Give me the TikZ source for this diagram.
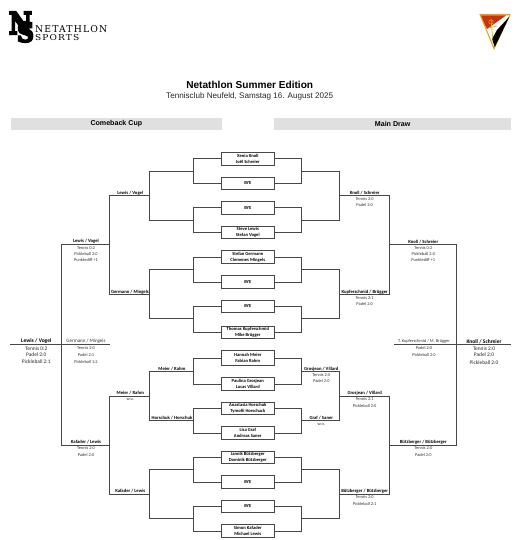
\documentclass[tikz,border=0pt]{standalone}
\usepackage{graphicx}
\usepackage{fontspec}
\setmainfont{Liberation Sans}
\newfontfamily\carl{Carlito}
\newfontfamily\logoserif{DejaVu Serif}
\newfontfamily\logoblack{DejaVu Serif}[BoldFeatures={FakeBold=7}]
\definecolor{barfill}{HTML}{E0E0E0}
\definecolor{crestgold}{HTML}{E8A317}
\definecolor{crestred}{HTML}{C8320F}
\tikzset{
  lineb/.style={draw=black!72,line width=0.85pt},
  matchbox/.style={draw=black!72,line width=0.85pt,fill=white,inner sep=0pt,minimum width=52.3pt,align=center,font=\carl\bfseries\fontsize{4.6}{6.3}\selectfont},
  bn/.style={inner sep=0pt,font=\carl\bfseries\fontsize{4.7}{5}\selectfont},
  rn/.style={inner sep=0pt,text=black!80,font=\carl\fontsize{4.4}{5}\selectfont},
  bbig/.style={inner sep=0pt,font=\carl\bfseries\fontsize{5.5}{6}\selectfont},
  rbig/.style={inner sep=0pt,text=black!85,font=\carl\fontsize{5.4}{6}\selectfont},
  rmid/.style={inner sep=0pt,text=black!80,font=\carl\fontsize{5}{6}\selectfont},
  bar/.style={fill=barfill,inner sep=0pt,minimum height=12pt,font=\bfseries\fontsize{7.1}{8}\selectfont},
}
\begin{document}
\begin{tikzpicture}[x=1pt,y=-1pt]
\useasboundingbox (0,0) rectangle (519,540);
% logo
\node[inner sep=0pt] (logoN) at (20.5,23) {\resizebox{23pt}{22pt}{\logoblack\bfseries N}};
\node[inner sep=0pt] (logoS) at (25.5,32) {\resizebox{17pt}{20pt}{\logoblack\bfseries S}};
\node[inner sep=0pt,anchor=west] (logoA) at (35,29.5) {\resizebox{72pt}{7pt}{\logoserif\addfontfeatures{LetterSpace=12}NETATHLON}};
\node[inner sep=0pt,anchor=west] (logoB) at (35,38) {\resizebox{44pt}{6pt}{\logoserif\addfontfeatures{LetterSpace=12}SPORTS}};
% crest
\fill[crestgold] (479.3,14) -- (510.7,14) -- (494,50) -- cycle;
\fill[white] (481,15.5) -- (509,15.5) -- (494,46.5) -- cycle;
\fill[crestred] (481,15.5) -- (506,15.5) -- (487,29) -- (485,25) -- cycle;
\fill[black] (509.5,16.5) -- (494.8,47) -- (492,39) -- (497,30) -- cycle;
\draw[crestgold,line width=0.6pt] (491,19) -- (493,41) (488.5,28) -- (497,26);
\draw[crestgold,line width=0.5pt] (491,22) circle (2.2);
% titles
\node[inner sep=0pt,font=\bfseries\fontsize{10.1}{12}\selectfont] (title) at (249.7,85) {Netathlon Summer Edition};
\node[inner sep=0pt,text=black!85,font=\fontsize{8.1}{9}\selectfont] (subtitle) at (249.7,96) {Tennisclub Neufeld, Samstag 16. August 2025};
\node[bar,minimum width=211.3pt] (barL) at (116.35,124) {Comeback Cup};
\node[bar,minimum width=237.3pt] (barR) at (392.65,124) {Main Draw};
% junctions
\foreach \n/\y in {1/171.3,2/220.3,3/269,4/318.7,5/371.7,6/420.3,7/469.3,8/518.3}{
  \coordinate (a\n) at (193,\y);
  \coordinate (b\n) at (301.7,\y);
}
\foreach \n/\y in {1/195.7,2/294.5,3/396,4/494}{
  \coordinate (c\n) at (149.3,\y);
  \coordinate (d\n) at (339.3,\y);
}
\foreach \n/\y in {1/244.3,2/445}{
  \coordinate (e\n) at (109.7,\y);
  \coordinate (f\n) at (389,\y);
}
\coordinate (g) at (61,344);
\coordinate (h) at (456.7,344);
\coordinate (gl) at (10,344);
\coordinate (gr) at (110,344);
\coordinate (hl) at (394,344);
\coordinate (hr) at (510.7,344);
% connectors
\draw[lineb] (gl) -- (gr);
\draw[lineb] (hl) -- (hr);
\draw[lineb] (e1) -| (g) (e2) -| (g);
\draw[lineb] (f1) -| (h) (f2) -| (h);
\draw[lineb] (c1) -| (e1) (c2) -| (e1) (c3) -| (e2) (c4) -| (e2);
\draw[lineb] (d1) -| (f1) (d2) -| (f1) (d3) -| (f2) (d4) -| (f2);
\draw[lineb] (a1) -| (c1) (a2) -| (c1) (a3) -| (c2) (a4) -| (c2) (a5) -| (c3) (a6) -| (c3) (a7) -| (c4) (a8) -| (c4);
\draw[lineb] (b1) -| (d1) (b2) -| (d1) (b3) -| (d2) (b4) -| (d2) (b5) -| (d3) (b6) -| (d3) (b7) -| (d4) (b8) -| (d4);
% boxes
\node[matchbox,minimum height=12.6pt] (m1) at (247.8,158.7) {Xenia Knoll\\Joël Schreier};
\node[matchbox,minimum height=12.4pt] (m2) at (247.8,183.4) {BYE};
\node[matchbox,minimum height=12.4pt] (m3) at (247.8,207.8) {BYE};
\node[matchbox,minimum height=12.4pt] (m4) at (247.8,232.5) {Steve Lewis\\Stefan Vogel};
\node[matchbox,minimum height=12.6pt] (m5) at (247.8,257) {Stefan Germann\\Clemenes Mingels};
\node[matchbox,minimum height=12.6pt] (m6) at (247.8,282) {BYE};
\node[matchbox,minimum height=12.4pt] (m7) at (247.8,306.5) {BYE};
\node[matchbox,minimum height=12.2pt] (m8) at (247.8,332.3) {Thomas Kupferschmid\\Mike Brügger};
\node[matchbox,minimum height=15pt] (m9) at (247.8,358.2) {Hannah Meier\\Fabian Rahm};
\node[matchbox,minimum height=12.6pt] (m10) at (247.8,384) {Paulina Grosjean\\Lucas Villard};
\node[matchbox,minimum height=12.7pt] (m11) at (247.8,408.3) {Anastasia Horschuk\\Tymofii Horschuck};
\node[matchbox,minimum height=12.6pt] (m12) at (247.8,433) {Lisa Graf\\Andreas Saner};
\node[matchbox,minimum height=12.4pt] (m13) at (247.8,457.5) {Jannik Bützberger\\Dominik Bützberger};
\node[matchbox,minimum height=12.6pt] (m14) at (247.8,482) {BYE};
\node[matchbox,minimum height=12.7pt] (m15) at (247.8,506.3) {BYE};
\node[matchbox,minimum height=12.6pt] (m16) at (247.8,531) {Simon Kafader\\Michael Lewis};
\foreach \m/\j in {1/1,2/1,3/2,4/2,5/3,6/3,7/4,8/4,9/5,10/5,11/6,12/6,13/7,14/7,15/8,16/8}{
  \draw[lineb] (m\m.west) -| (a\j);
  \draw[lineb] (m\m.east) -| (b\j);
}
% left labels
\node[bn] (l1) at (130.3,193) {Lewis / Vogel};
\node[bn] (l2) at (130,292) {Germann / Mingels};
\node[bn] (l3) at (86,241.7) {Lewis / Vogel};
\node[rn] (l4) at (86,247.7) {Tennis 0:2};
\node[rn] (l5) at (86,254.3) {Pickleball 2:0};
\node[rn] (l6) at (86,260.3) {Punktediff +1};
\node[rmid] (l7) at (86,341.5) {Germann / Mingels};
\node[rn] (l8) at (86,348.3) {Tennis 2:0};
\node[rn] (l9) at (86,355.3) {Padel 2:1};
\node[rn] (l10) at (86,362.3) {Pickleball 1:2};
\node[bbig] (l11) at (36.3,341.3) {Lewis / Vogel};
\node[rbig] (l12) at (36.3,348.3) {Tennis 0:2};
\node[rbig] (l13) at (36.3,355) {Padel 2:0};
\node[rbig] (l14) at (36.3,362) {Pickleball 2:1};
\node[bn] (l15) at (172,369) {Meier / Rahm};
\node[bn] (l16) at (172,417.7) {Horschuk / Horschuk};
\node[bn] (l17) at (130.3,393.3) {Meier / Rahm};
\node[rn] (l18) at (130.3,399.7) {w.o.};
\node[bn] (l19) at (86,442.3) {Kafader / Lewis};
\node[rn] (l20) at (86,448.3) {Tennis 2:0};
\node[rn] (l21) at (86,454.7) {Padel 2:0};
\node[bn] (l22) at (130.3,491.3) {Kafader / Lewis};
% right labels
\node[bn] (r1) at (364.7,193) {Knoll / Schreier};
\node[rn] (r2) at (364.7,199) {Tennis 2:0};
\node[rn] (r3) at (364.7,205) {Padel 2:0};
\node[bn] (r4) at (364.7,292) {Kupferschmid / Brügger};
\node[rn] (r5) at (364.7,297.7) {Tennis 2:1};
\node[rn] (r6) at (364.7,303.7) {Padel 2:0};
\node[bn] (r7) at (423.3,241.7) {Knoll / Schreier};
\node[rn] (r8) at (423.3,247.7) {Tennis 0:2};
\node[rn] (r9) at (423.3,254.3) {Pickleball 2:0};
\node[rn] (r10) at (423.3,260.3) {Punktediff +1};
\node[bn] (r11) at (321.3,369) {Grosjean / Villard};
\node[rn] (r12) at (321.3,375) {Tennis 2:0};
\node[rn] (r13) at (321.3,381.3) {Padel 2:0};
\node[bn] (r14) at (321.3,417.7) {Graf / Saner};
\node[rn] (r15) at (321.3,424.3) {w.o.};
\node[bn] (r16) at (364.7,393.3) {Grosjean / Villard};
\node[rn] (r17) at (364.7,399.3) {Tennis 2:1};
\node[rn] (r18) at (364.7,406) {Pickleball 2:0};
\node[bn] (r19) at (364.7,491.3) {Bützberger / Bützberger};
\node[rn] (r20) at (364.7,497) {Tennis 2:0};
\node[rn] (r21) at (364.7,503.7) {Pickleball 2:1};
\node[bn] (r22) at (423.3,442.3) {Bützberger / Bützberger};
\node[rn] (r23) at (423.3,448.3) {Tennis 2:0};
\node[rn] (r24) at (423.3,454.7) {Padel 2:0};
\node[rn] (r25) at (424,341.7) {T. Kupferschmid / M. Brügger};
\node[rn] (r26) at (424,348.3) {Padel 2:0};
\node[rn] (r27) at (424,355) {Pickleball 2:0};
\node[bbig] (r28) at (484,341.3) {Knoll / Schreier};
\node[rbig] (r29) at (484,348.3) {Tennis 2:0};
\node[rbig] (r30) at (484,355) {Padel 2:0};
\node[rbig] (r31) at (484,363) {Pickleball 2:0};
\end{tikzpicture}
\end{document}
